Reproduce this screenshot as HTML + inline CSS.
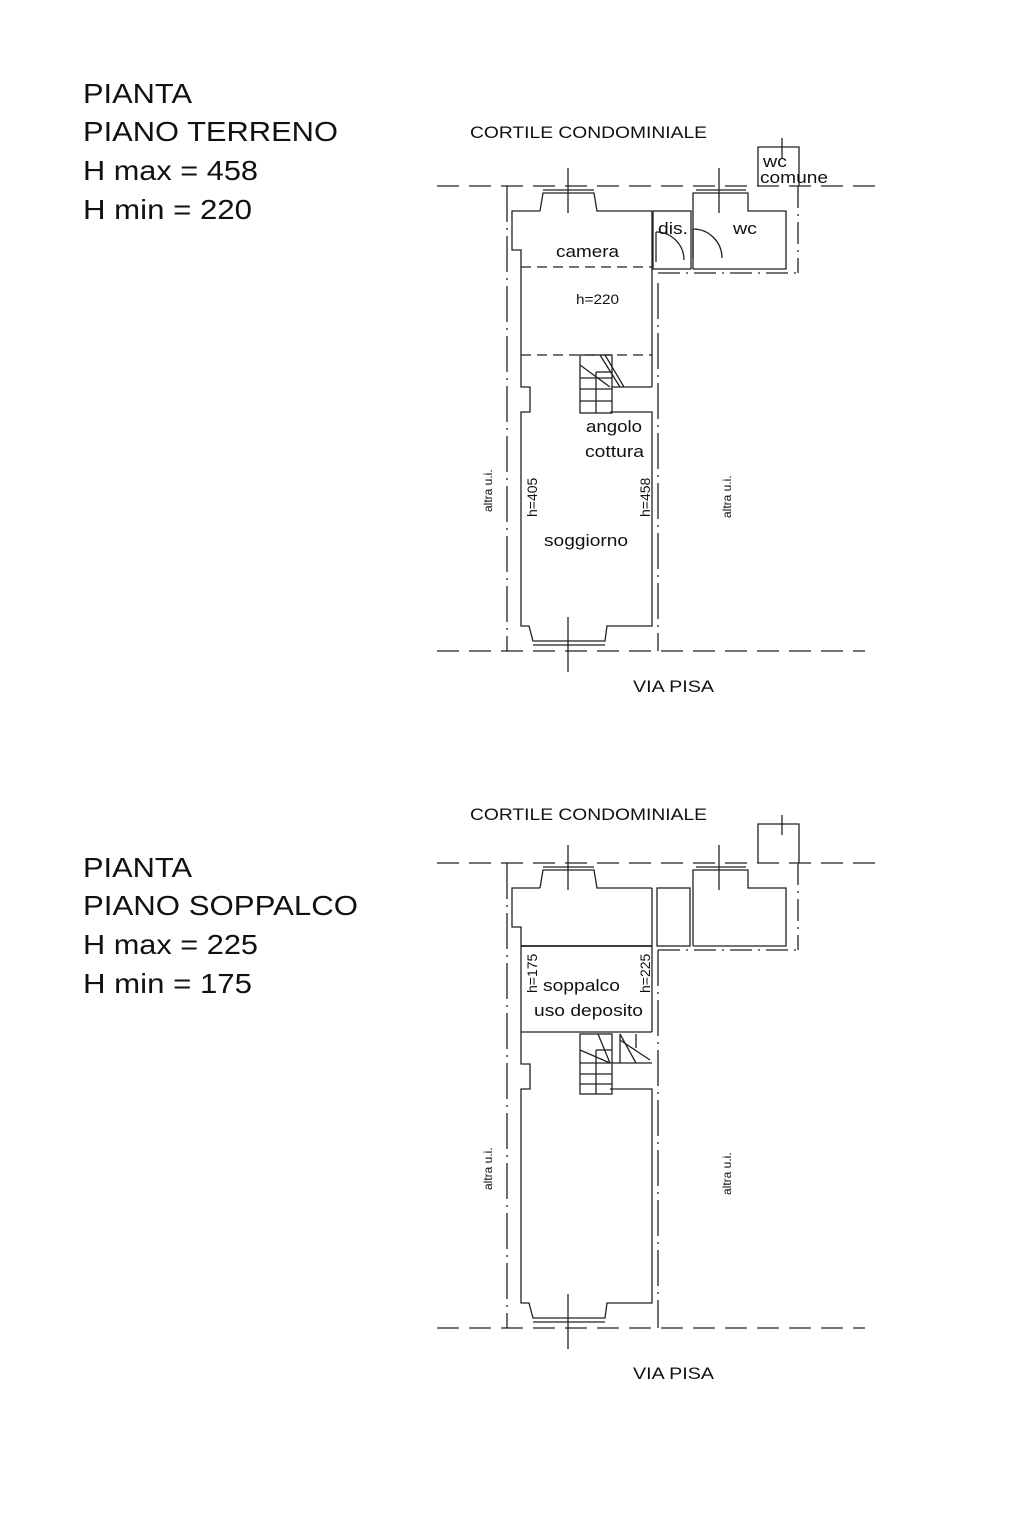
<!DOCTYPE html>
<html><head><style>
body{margin:0;background:#fff}
svg{display:block}
text{font-family:"Liberation Sans",sans-serif;fill:#111}
</style></head><body>
<svg width="1024" height="1536" viewBox="0 0 1024 1536" xmlns="http://www.w3.org/2000/svg">
<g font-size="28">
<text x="83" y="103" textLength="109" lengthAdjust="spacingAndGlyphs">PIANTA</text>
<text x="83" y="141" textLength="255" lengthAdjust="spacingAndGlyphs">PIANO TERRENO</text>
<text x="83" y="180" textLength="175" lengthAdjust="spacingAndGlyphs">H max = 458</text>
<text x="83" y="219" textLength="169" lengthAdjust="spacingAndGlyphs">H min = 220</text>
<text x="83" y="877" textLength="109" lengthAdjust="spacingAndGlyphs">PIANTA</text>
<text x="83" y="915" textLength="275" lengthAdjust="spacingAndGlyphs">PIANO SOPPALCO</text>
<text x="83" y="954" textLength="175" lengthAdjust="spacingAndGlyphs">H max = 225</text>
<text x="83" y="993" textLength="169" lengthAdjust="spacingAndGlyphs">H min = 175</text>
</g>

<defs>
<g id="common" fill="none" stroke="#222" stroke-width="1.3">
  <line x1="437" y1="186" x2="875" y2="186" stroke-dasharray="22,10"/>
  <line x1="437" y1="651" x2="865" y2="651" stroke-dasharray="22,10"/>
  <line x1="507" y1="186" x2="507" y2="651" stroke-dasharray="36,6,2,6"/>
  <polyline points="540,211 512,211 512,250 521,250 521,387 530,387 530,412 521,412 521,626 529,626 533,641 605,641 607,626 652,626 652,412 610,412"/>
  <polyline points="540,211 543,193 594,193 597,211 652,211"/>
  <line x1="543" y1="190" x2="594" y2="190"/>
  <line x1="533" y1="645" x2="605" y2="645"/>
  <line x1="568" y1="168" x2="568" y2="213"/>
  <line x1="568" y1="617" x2="568" y2="672"/>
  <line x1="719" y1="168" x2="719" y2="213"/>
  <polyline points="693,269 693,193 748,193 748,211 786,211 786,269 693,269"/>
  <line x1="696" y1="190" x2="746" y2="190"/>
  <line x1="798" y1="186" x2="798" y2="273" stroke-dasharray="22,6,2,6"/>
  <line x1="658" y1="273" x2="798" y2="273" stroke-dasharray="22,6,2,6"/>
  <polyline points="758,186 758,147 799,147 799,186"/>
  <line x1="782" y1="138" x2="782" y2="158"/>
</g>
</defs>

<!-- PLAN 1 -->
<text x="470" y="138" font-size="17" textLength="237" lengthAdjust="spacingAndGlyphs">CORTILE CONDOMINIALE</text>
<use href="#common"/>
<g fill="none" stroke="#222" stroke-width="1.3">
  <line x1="652" y1="211" x2="652" y2="387"/>
  <line x1="658" y1="283" x2="658" y2="651" stroke-dasharray="36,6,2,6"/>
  <rect x="653" y="211" width="38" height="58"/>
  <path d="M656,232 A28,28 0 0 1 684,260"/>
  <line x1="656" y1="232" x2="656" y2="262"/>
  <path d="M693,229 A29,29 0 0 1 722,258"/>
  <line x1="693" y1="229" x2="693" y2="258"/>
  <line x1="521" y1="267" x2="652" y2="267" stroke-dasharray="10,6"/>
  <line x1="521" y1="355" x2="652" y2="355" stroke-dasharray="10,6"/>
  <rect x="580" y="355" width="32" height="58"/>
  <line x1="596" y1="372" x2="596" y2="413"/>
  <line x1="580" y1="378" x2="612" y2="378"/>
  <line x1="580" y1="389" x2="612" y2="389"/>
  <line x1="580" y1="401" x2="612" y2="401"/>
  <line x1="596" y1="372" x2="612" y2="372"/>
  <line x1="600" y1="355" x2="620" y2="387"/>
  <line x1="605" y1="355" x2="624" y2="387"/>
  <line x1="580" y1="365" x2="610" y2="387"/>
  <line x1="612" y1="387" x2="652" y2="387"/>
</g>
<g font-size="17">
<text x="556" y="257" textLength="63" lengthAdjust="spacingAndGlyphs">camera</text>
<text x="658" y="234" textLength="30" lengthAdjust="spacingAndGlyphs">dis.</text>
<text x="733" y="234" textLength="24" lengthAdjust="spacingAndGlyphs">wc</text>
<text x="763" y="167" textLength="24" lengthAdjust="spacingAndGlyphs">wc</text>
<text x="760" y="183" textLength="68" lengthAdjust="spacingAndGlyphs">comune</text>
<text x="576" y="304" font-size="14" fill="#555" textLength="43" lengthAdjust="spacingAndGlyphs">h=220</text>
<text x="586" y="432" textLength="56" lengthAdjust="spacingAndGlyphs">angolo</text>
<text x="585" y="457" textLength="59" lengthAdjust="spacingAndGlyphs">cottura</text>
<text x="544" y="546" textLength="84" lengthAdjust="spacingAndGlyphs">soggiorno</text>
<text x="633" y="692" textLength="81" lengthAdjust="spacingAndGlyphs">VIA PISA</text>
</g>
<g font-size="12" fill="#555">
<text transform="translate(492,512) rotate(-90)">altra u.i.</text>
<text transform="translate(731,518) rotate(-90)">altra u.i.</text>
<text transform="translate(537,517) rotate(-90)" font-size="14">h=405</text>
<text transform="translate(650,517) rotate(-90)" font-size="14">h=458</text>
</g>

<!-- PLAN 2 -->
<text x="470" y="820" font-size="17" textLength="237" lengthAdjust="spacingAndGlyphs">CORTILE CONDOMINIALE</text>
<use href="#common" transform="translate(0,677)"/>
<g fill="none" stroke="#222" stroke-width="1.3">
  <line x1="652" y1="888" x2="652" y2="1032"/>
  <line x1="658" y1="950" x2="658" y2="1328" stroke-dasharray="36,6,2,6"/>
  <rect x="657" y="888" width="33" height="58"/>
  <line x1="521" y1="946" x2="652" y2="946" stroke-width="1.8"/>
  <line x1="521" y1="1032" x2="652" y2="1032"/>
  <rect x="580" y="1034" width="32" height="60"/>
  <line x1="596" y1="1050" x2="596" y2="1094"/>
  <line x1="580" y1="1063" x2="612" y2="1063"/>
  <line x1="580" y1="1074" x2="612" y2="1074"/>
  <line x1="580" y1="1084" x2="612" y2="1084"/>
  <line x1="596" y1="1050" x2="612" y2="1050"/>
  <line x1="580" y1="1050" x2="610" y2="1063"/>
  <line x1="598" y1="1034" x2="610" y2="1063"/>
  <line x1="620" y1="1034" x2="620" y2="1063"/>
  <line x1="612" y1="1063" x2="652" y2="1063"/>
  <line x1="620" y1="1034" x2="636" y2="1063"/>
  <line x1="620" y1="1040" x2="650" y2="1060"/>
  <line x1="636" y1="1034" x2="636" y2="1048"/>
</g>
<g font-size="17">
<text x="543" y="991" textLength="77" lengthAdjust="spacingAndGlyphs">soppalco</text>
<text x="534" y="1016" textLength="109" lengthAdjust="spacingAndGlyphs">uso deposito</text>
<text x="633" y="1379" textLength="81" lengthAdjust="spacingAndGlyphs">VIA PISA</text>
</g>
<g font-size="12" fill="#555">
<text transform="translate(492,1190) rotate(-90)">altra u.i.</text>
<text transform="translate(731,1195) rotate(-90)">altra u.i.</text>
<text transform="translate(537,993) rotate(-90)" font-size="14">h=175</text>
<text transform="translate(650,993) rotate(-90)" font-size="14">h=225</text>
</g>
</svg>
</body></html>
